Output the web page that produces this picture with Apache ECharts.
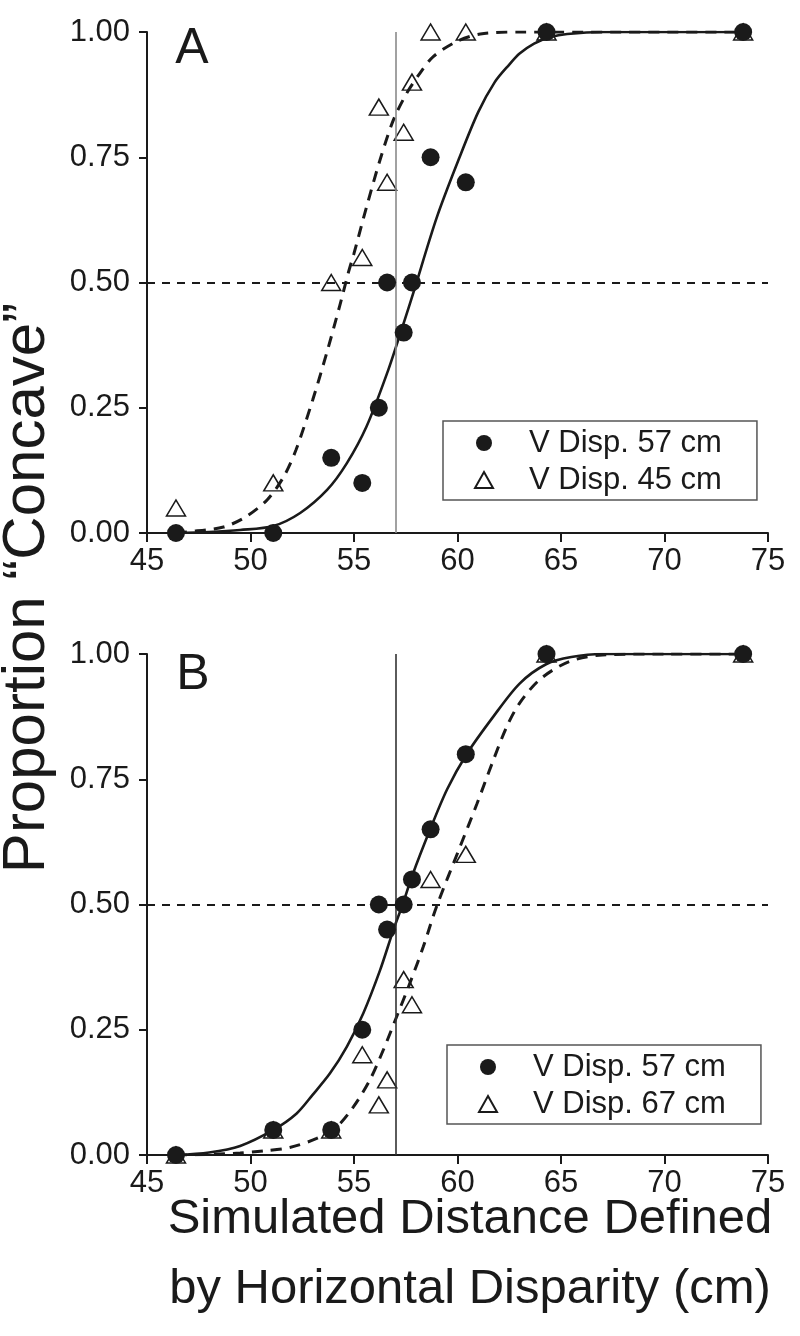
<!DOCTYPE html>
<html>
<head>
<meta charset="utf-8">
<script src="https://cdn.jsdelivr.net/npm/echarts@6/dist/echarts.min.js"></script>
<style>
html,body{margin:0;padding:0;background:#fff;}
#c{width:800px;height:1336px;}
</style>
</head>
<body>
<div id="c"></div>
<script>
// ---- data ----
const levels = [46.4, 51.1, 53.9, 55.4, 56.2, 56.6, 57.4, 57.8, 58.7, 60.4, 64.3, 73.8];
const aV57 = [0, 0, 0.15, 0.10, 0.25, 0.50, 0.40, 0.50, 0.75, 0.70, 1, 1];
const aV45 = [0.05, 0.10, 0.50, 0.55, 0.85, 0.70, 0.80, 0.90, 1, 1, 1, 1];
const bV57 = [0, 0.05, 0.05, 0.25, 0.50, 0.45, 0.50, 0.55, 0.65, 0.80, 1, 1];
const bV67 = [0, 0.05, 0.05, 0.20, 0.10, 0.15, 0.35, 0.30, 0.55, 0.60, 1, 1];

// fitted curves
const aFit57X = [46.4, 48, 49.5, 51.1, 52.4, 53.7, 54.65, 55.6, 56.6, 57.4, 57.87, 59.0, 60.1, 61.0, 61.8, 62.5, 63.0, 63.7, 64.5, 65.3, 67, 70, 73.8];
const aFit57Y = [0, 0.002, 0.006, 0.014, 0.04, 0.086, 0.139, 0.212, 0.319, 0.419, 0.48, 0.63, 0.75, 0.84, 0.9, 0.935, 0.957, 0.977, 0.99, 0.996, 1, 1, 1];
const aFit45X = [46.4, 46.9, 48.7, 49.8, 50.8, 51.6, 52.2, 53.0, 53.68, 54.3, 54.73, 55.0, 55.6, 56.26, 56.9, 57.55, 58.19, 58.83, 59.96, 61.1, 63, 65, 73.8];
const aFit45Y = [0, 0.002, 0.012, 0.033, 0.066, 0.112, 0.166, 0.265, 0.359, 0.452, 0.52, 0.558, 0.65, 0.745, 0.824, 0.878, 0.918, 0.951, 0.981, 0.996, 1, 1, 1];
const bFit57X = [46.4, 48, 49.5, 51.1, 52.23, 53.0, 53.84, 54.65, 55.45, 56.26, 56.9, 57.35, 57.8, 58.67, 59.5, 60.44, 61.73, 63.0, 64.3, 65.5, 67, 70, 73.8];
const bFit57Y = [0, 0.005, 0.018, 0.05, 0.083, 0.12, 0.163, 0.216, 0.283, 0.369, 0.449, 0.5, 0.556, 0.649, 0.73, 0.8, 0.875, 0.941, 0.98, 0.994, 1, 1, 1];
const bFit67X = [46.4, 48, 49.5, 50.6, 51.9, 53.2, 54.16, 54.97, 55.77, 56.42, 57.06, 57.7, 58.35, 58.99, 60.12, 60.93, 61.73, 62.38, 63.0, 64.0, 65.4, 67, 70, 73.8];
const bFit67Y = [0, 0.001, 0.004, 0.008, 0.015, 0.033, 0.056, 0.096, 0.15, 0.21, 0.276, 0.343, 0.416, 0.496, 0.615, 0.7, 0.788, 0.855, 0.902, 0.95, 0.985, 0.998, 1, 1];

const xTicks = [45, 50, 55, 60, 65, 70, 75];
const yTickLabels = ['0.00', '0.25', '0.50', '0.75', '1.00'];
const halfLevel = 0.5;
const refDistance = 57;

const nameA1 = 'V Disp. 57 cm', nameA2 = 'V Disp. 45 cm';
const nameB1 = 'V Disp. 57 cm', nameB2 = 'V Disp. 67 cm';

// ---- build ----
const FONT = "'Liberation Sans', Arial, Helvetica, sans-serif";
const pairs = (xs, ys) => xs.map((x, i) => [x, ys[i]]);
const ink = '#1a1a1a';

function xAx(gi) {
  return {
    type: 'value', gridIndex: gi, min: xTicks[0], max: xTicks[xTicks.length - 1],
    interval: xTicks[1] - xTicks[0],
    axisLine: { onZero: false, lineStyle: { color: ink, width: 2 } },
    axisTick: { length: 9, lineStyle: { color: ink, width: 2 } },
    axisLabel: { color: ink, fontSize: 31, fontFamily: FONT, margin: 13 },
    splitLine: { show: false }
  };
}
function yAx(gi) {
  return {
    type: 'value', gridIndex: gi, min: 0, max: 1, interval: 0.25,
    axisLine: { onZero: false, lineStyle: { color: ink, width: 2 } },
    axisTick: { length: 8, lineStyle: { color: ink, width: 2 } },
    axisLabel: { color: ink, fontSize: 31, fontFamily: FONT, margin: 17,
      formatter: v => yTickLabels[Math.round(v / 0.25)] },
    splitLine: { show: false }
  };
}
function refSeries(gi, vColor) {
  return {
    type: 'line', xAxisIndex: gi, yAxisIndex: gi, data: [], silent: true, z: 1,
    markLine: {
      silent: true, symbol: 'none', animation: false,
      label: { show: false },
      data: [
        { yAxis: halfLevel, lineStyle: { color: ink, width: 2, type: [8, 7] } },
        { xAxis: refDistance, lineStyle: { color: vColor, width: 1.6, type: 'solid' } }
      ]
    }
  };
}
function circles(gi, name, ys) {
  return { type: 'scatter', name, xAxisIndex: gi, yAxisIndex: gi, data: pairs(levels, ys),
    symbol: 'circle', symbolSize: 18, z: 5,
    itemStyle: { color: ink, opacity: 1 } };
}
function triangles(gi, name, ys) {
  return { type: 'scatter', name, xAxisIndex: gi, yAxisIndex: gi, data: pairs(levels, ys),
    symbol: 'triangle', symbolSize: [19, 16], z: 3,
    itemStyle: { color: '#fff', borderColor: ink, borderWidth: 1.5, opacity: 1 } };
}
function curve(gi, name, xs, ys, dashed) {
  return { type: 'line', name, xAxisIndex: gi, yAxisIndex: gi, data: pairs(xs, ys),
    showSymbol: false, symbol: 'none', smooth: 0.3, z: 4, silent: true,
    lineStyle: { color: ink, width: dashed ? 3 : 2.6, type: dashed ? [11, 8] : 'solid' } };
}
function legend(left, top, names) {
  return {
    orient: 'vertical', left, top, data: names,
    itemWidth: 18, itemHeight: 16, itemGap: 3,
    padding: [5, 35, 3, 31],
    borderColor: '#555', borderWidth: 1.5, backgroundColor: '#fff',
    selectedMode: false,
    textStyle: { color: ink, fontSize: 31, fontFamily: FONT, lineHeight: 34, padding: [0, 0, 0, 31] }
  };
}

const option = {
  animation: false,
  backgroundColor: '#fff',
  grid: [
    { left: 147, top: 32, width: 621, height: 501 },
    { left: 147, top: 654, width: 621, height: 501 }
  ],
  xAxis: [xAx(0), xAx(1)],
  yAxis: [yAx(0), yAx(1)],
  legend: [
    legend(443, 421, [nameA1, nameA2]),
    legend(447, 1045, [nameB1, nameB2])
  ],
  graphic: [
    { type: 'text', x: 192, y: 49, style: { text: 'A', font: '50px ' + FONT, fill: ink, textAlign: 'center', textVerticalAlign: 'middle' } },
    { type: 'text', x: 193, y: 675, style: { text: 'B', font: '50px ' + FONT, fill: ink, textAlign: 'center', textVerticalAlign: 'middle' } },
    { type: 'text', x: 27, y: 588, rotation: Math.PI / 2, style: { text: 'Proportion \u201cConcave\u201d', font: '60px ' + FONT, fill: ink, textAlign: 'center', textVerticalAlign: 'middle' } },
    { type: 'text', x: 470, y: 1219, style: { text: 'Simulated Distance Defined', font: '49px ' + FONT, fill: ink, textAlign: 'center', textVerticalAlign: 'middle' } },
    { type: 'text', x: 470, y: 1289, style: { text: 'by Horizontal Disparity (cm)', font: '49px ' + FONT, fill: ink, textAlign: 'center', textVerticalAlign: 'middle' } }
  ],
  series: [
    refSeries(0, '#8a8a8a'),
    triangles(0, nameA2, aV45),
    curve(0, 'fitA57', aFit57X, aFit57Y, false),
    curve(0, 'fitA45', aFit45X, aFit45Y, true),
    circles(0, nameA1, aV57),
    refSeries(1, '#333'),
    triangles(1, nameB2, bV67),
    curve(1, 'fitB57', bFit57X, bFit57Y, false),
    curve(1, 'fitB67', bFit67X, bFit67Y, true),
    circles(1, nameB1, bV57)
  ]
};
const chart = echarts.init(document.getElementById('c'), null, { renderer: 'canvas' });
chart.setOption(option);
</script>
</body>
</html>
